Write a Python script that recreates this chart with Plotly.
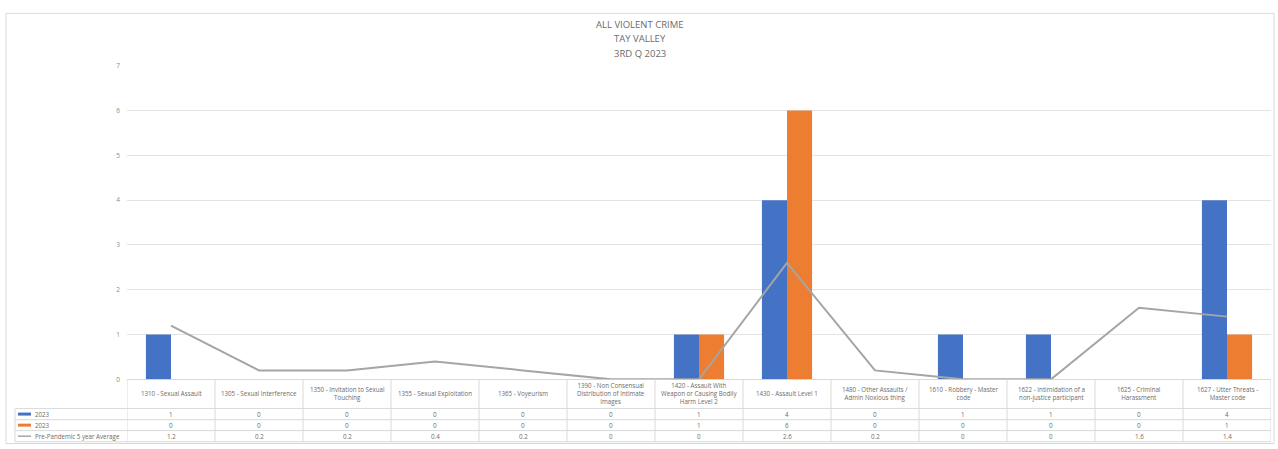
import plotly.graph_objects as go

categories = [
    "1310 - Sexual Assault",
    "1305 - Sexual Interference",
    "1350 - Invitation to Sexual<br>Touching",
    "1355 - Sexual Exploitation",
    "1365 - Voyeurism",
    "1390 - Non Consensual<br>Distribution of Intimate<br>Images",
    "1420 - Assault With<br>Weapon or Causing Bodily<br>Harm Level 2",
    "1430 - Assault Level 1",
    "1480 - Other Assaults /<br>Admin Noxious thing",
    "1610 - Robbery - Master<br>code",
    "1622 - Intimidation of a<br>non-justice participant",
    "1625 - Criminal<br>Harassment",
    "1627 - Utter Threats -<br>Master code",
]
series_a_name = "2023"
series_a = [1, 0, 0, 0, 0, 0, 1, 4, 0, 1, 1, 0, 4]
series_b_name = "2023"
series_b = [0, 0, 0, 0, 0, 0, 1, 6, 0, 0, 0, 0, 1]
avg_name = "Pre-Pandemic 5 year Average"
avg = [1.2, 0.2, 0.2, 0.4, 0.2, 0, 0, 2.6, 0.2, 0, 0, 1.6, 1.4]
title_lines = ["ALL VIOLENT CRIME", "TAY VALLEY", "3RD Q 2023"]
y_ticks = [0, 1, 2, 3, 4, 5, 6, 7]

W, H = 1278, 449
BLUE, ORANGE, GREY = "#4472C4", "#ED7D31", "#A5A5A5"
TXT = "#6b6b6b"
BORDER = "#d9d9d9"
FONT = "Open Sans"
TS = 6.2

def px(x):
    return x / W

def py(y):
    return 1 - y / H

idx = list(range(len(categories)))

fig = go.Figure()
fig.add_trace(go.Bar(x=idx, y=series_a, name=series_a_name, marker_color=BLUE, marker_line_width=0))
fig.add_trace(go.Bar(x=idx, y=series_b, name=series_b_name, marker_color=ORANGE, marker_line_width=0))
fig.add_trace(go.Scatter(x=idx, y=avg, name=avg_name, mode="lines", line=dict(color=GREY, width=2)))

shapes = []
annotations = []

# outer frame
shapes.append(dict(type="rect", xref="paper", yref="paper", x0=px(6), x1=px(1274), y0=py(447.5), y1=py(8.5),
                   line=dict(color=BORDER, width=1)))

# title
for i, t in enumerate(title_lines):
    annotations.append(dict(text=t, xref="paper", yref="paper", x=px(640), y=py(20 + 14.5 * i),
                            showarrow=False, xanchor="center", yanchor="middle",
                            font=dict(family=FONT, size=9.5, color=TXT)))

# data table
row_tops = [382, 411.7, 423.2, 434.3, 445.7]
n = len(categories)
for k in range(n + 1):
    shapes.append(dict(type="line", xref="x", yref="paper", x0=k - 0.5, x1=k - 0.5,
                       y0=py(row_tops[0]), y1=py(row_tops[-1]), line=dict(color=BORDER, width=1)))
shapes.append(dict(type="line", xref="paper", yref="paper", x0=px(15), x1=px(15),
                   y0=py(row_tops[1]), y1=py(row_tops[-1]), line=dict(color=BORDER, width=1)))
for yy in row_tops[1:]:
    shapes.append(dict(type="line", xref="paper", yref="paper", x0=px(15), x1=px(1271),
                       y0=py(yy), y1=py(yy), line=dict(color=BORDER, width=1)))

for k, c in enumerate(categories):
    annotations.append(dict(text=c, xref="x", yref="paper", x=k, y=py((row_tops[0] + row_tops[1]) / 2),
                            showarrow=False, xanchor="center", yanchor="middle",
                            font=dict(family=FONT, size=TS, color=TXT)))

def fmt(v):
    return str(int(v)) if float(v).is_integer() else f"{v:g}"

rows = [(series_a_name, series_a, BLUE, 3), (series_b_name, series_b, ORANGE, 3), (avg_name, avg, GREY, 1.5)]
for r, (name, vals, col, lw) in enumerate(rows):
    yc = py((row_tops[r + 1] + row_tops[r + 2]) / 2)
    shapes.append(dict(type="line", xref="paper", yref="paper", x0=px(18), x1=px(31), y0=yc, y1=yc,
                       line=dict(color=col, width=lw)))
    annotations.append(dict(text=name, xref="paper", yref="paper", x=px(33), y=yc, showarrow=False,
                            xanchor="left", yanchor="middle", font=dict(family=FONT, size=TS, color=TXT)))
    for k, v in enumerate(vals):
        annotations.append(dict(text=fmt(v), xref="x", yref="paper", x=k, y=yc, showarrow=False,
                                xanchor="center", yanchor="middle", font=dict(family=FONT, size=TS, color=TXT)))

fig.update_layout(
    width=W, height=H,
    margin=dict(l=0, r=0, t=0, b=0),
    paper_bgcolor="white", plot_bgcolor="white",
    showlegend=False,
    barmode="group", bargap=0.43, bargroupgap=0,
    shapes=shapes, annotations=annotations,
    font=dict(family=FONT, color=TXT),
    xaxis=dict(domain=[px(127), px(1271)], range=[-0.5, n - 0.5], showticklabels=False,
               showgrid=False, zeroline=False, showline=False, fixedrange=True),
    yaxis=dict(domain=[py(382), py(62)], range=[0, 7], tickvals=y_ticks, showgrid=True,
               gridcolor="#e3e3e3", gridwidth=1, zeroline=True, zerolinecolor=BORDER, zerolinewidth=1,
               showline=False, ticks="", ticklen=0, tickfont=dict(family=FONT, size=6.5, color="#8a8a8a"),
               ticklabelstandoff=6, fixedrange=True),
)

post = (
    "document.documentElement.style.margin='0';"
    "document.documentElement.style.overflow='hidden';"
    "document.body.style.margin='0';"
    "document.body.style.overflow='hidden';"
    "var gd=document.getElementById('{plot_id}');"
    "gd.style.position='fixed';gd.style.top='0px';gd.style.left='0px';"
)
fig.write_html("out.html", config={"displayModeBar": False}, post_script=post)
